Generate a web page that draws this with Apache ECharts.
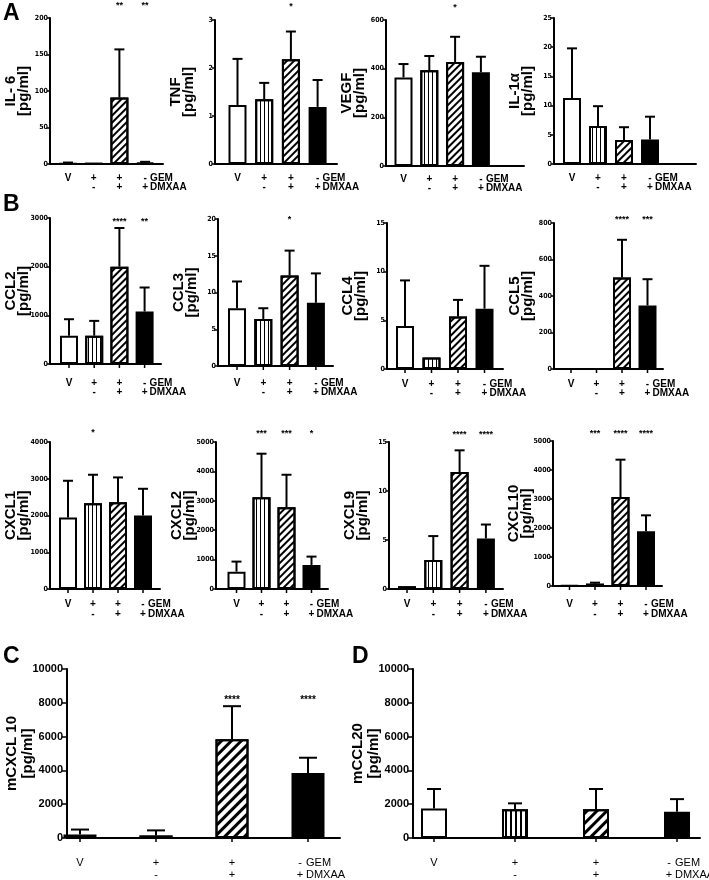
<!DOCTYPE html>
<html><head><meta charset="utf-8">
<script src="https://cdn.jsdelivr.net/npm/echarts@6/dist/echarts.min.js"></script>
<style>html,body{margin:0;padding:0;background:#fff}#c{width:709px;height:880px}</style>
</head><body><div id="c"></div>
<script>
// ---------- data ----------
const gemRow   = ['V', '+', '+', '-'];
const dmxaaRow = ['',  '-', '+', '+'];
const gemTag = 'GEM', dmxaaTag = 'DMXAA';

const il6Mean = [1, 0.5, 91, 2],        il6Err = [2, 0.5, 157, 3],        il6Stars = ['', '', '**', '**'];
const tnfMean = [1.23, 1.35, 2.18, 1.19], tnfErr = [2.19, 1.69, 2.76, 1.75], tnfStars = ['', '', '*', ''];
const vegfMean = [364, 393, 427, 385],  vegfErr = [419, 452, 531, 449],   vegfStars = ['', '', '*', ''];
const il1aMean = [11.3, 6.5, 4.1, 4.2], il1aErr = [19.8, 9.9, 6.3, 8.1],  il1aStars = ['', '', '', ''];
const ccl2Mean = [583, 583, 2000, 1078], ccl2Err = [920, 886, 2794, 1572], ccl2Stars = ['', '', '****', '**'];
const ccl3Mean = [7.86, 6.4, 12.3, 8.6], ccl3Err = [11.5, 7.86, 15.7, 12.6], ccl3Stars = ['', '', '*', ''];
const ccl4Mean = [4.43, 1.17, 5.4, 6.2], ccl4Err = [9.1, 1.17, 7.1, 10.6], ccl4Stars = ['', '', '', ''];
const ccl5Mean = [0, 0, 501, 348],      ccl5Err = [0, 0, 708, 492],       ccl5Stars = ['', '', '****', '***'];
const cxcl1Mean = [1945, 2336, 2363, 2000], cxcl1Err = [2945, 3109, 3036, 2727], cxcl1Stars = ['', '*', '', ''];
const cxcl2Mean = [590, 3125, 2784, 818], cxcl2Err = [932, 4602, 3886, 1102], cxcl2Stars = ['', '***', '***', '*'];
const cxcl9Mean = [0.3, 2.95, 11.94, 5.16], cxcl9Err = [0.3, 5.4, 14.15, 6.58], cxcl9Stars = ['', '', '****', '****'];
const cxcl10Mean = [23, 80, 3069, 1885], cxcl10Err = [23, 115, 4356, 2437], cxcl10Stars = ['', '***', '****', '****'];
const mcxcl10Mean = [200, 150, 5850, 3850], mcxcl10Err = [500, 450, 7800, 4750], mcxcl10Stars = ['', '', '****', '****'];
const mccl20Mean = [1750, 1700, 1700, 1550], mccl20Err = [2900, 2050, 2900, 2300], mccl20Stars = ['', '', '', ''];

const yMaxList  = [200, 3, 600, 25, 3000, 20, 15, 800, 4000, 5000, 15, 5000, 10000, 10000];
const yStepList = [50, 1, 200, 5, 1000, 5, 5, 200, 1000, 1000, 5, 1000, 2000, 2000];
const yTitles = ['IL- 6\n[pg/ml]', 'TNF\n[pg/ml]', 'VEGF\n[pg/ml]', 'IL-1α\n[pg/ml]',
                 'CCL2\n[pg/ml]', 'CCL3\n[pg/ml]', 'CCL4\n[pg/ml]', 'CCL5\n[pg/ml]',
                 'CXCL1\n[pg/ml]', 'CXCL2\n[pg/ml]', 'CXCL9\n[pg/ml]', 'CXCL10\n[pg/ml]',
                 'mCXCL 10\n[pg/ml]', 'mCCL20\n[pg/ml]'];
const panelLetters = ['A', 'B', 'C', 'D'];

// ---------- layout (pixels) ----------
// [left, top, right, bottom, firstCenter, spacing, starDy, lab1Dy, lab2Dy]
const layouts = [
  [50, 18, 163, 164, 68, 25.7, -12, 14, 23],
  [215, 20, 337, 164, 237.5, 26.7, -13, 14, 23],
  [386, 20, 524, 166, 403.5, 25.8, -12, 13, 22],
  [554, 18, 696, 164, 572, 26, 0, 14, 23],
  [50, 218, 161, 364, 69, 25.2, 4, 19, 28],
  [218, 219, 333, 366, 237, 26.3, 1, 17, 26],
  [387, 223, 503, 369, 405, 26.5, 0, 15, 24],
  [554, 223, 663, 369, 571, 25.5, -3, 15, 24],
  [50, 442, 160, 589, 68, 25, -9, 15, 25],
  [216, 442, 328, 589, 236.5, 25, -8, 15, 25],
  [389, 442, 503, 589, 407, 26.3, -7, 15, 25],
  [553, 441, 662, 586, 569.5, 25.5, -7, 18, 28],
  [67, 669, 340, 838, 80, 76, 31, 25, 37],
  [413, 669, 700, 838, 434, 81, 0, 25, 37]
];
const letterPos = [[3, 2], [3, 193], [3, 645], [352, 645]];

const FONT = '"Liberation Sans", Arial, Helvetica, sans-serif';
const NARROW = '"Liberation Sans Narrow", "DejaVu Sans Condensed", "Liberation Sans", sans-serif';
const plain = v => String(v);

const SMALL = {barW: 18, border: 2, axisW: 2, errW: 2, cap: 10, xTick: 0, yTick: 3,
  yFont: {fontSize: 7, fontFamily: NARROW, fontWeight: 'bold', color: '#000', margin: 2, formatter: plain},
  nameGap: 20, nameSize: 15, nameLH: 13, labFont: 'bold 10px ' + FONT, starFont: 'bold 9px ' + FONT,
  vert: [1, 2.5], diag: [1.6, 3], tagShift: 0, tagGap: 5};
const SMALL_T = Object.assign({}, SMALL, {xTick: 4});
const BIG = {barW: 33, border: 2, axisW: 2, errW: 2, cap: 18, xTick: 4, yTick: 5,
  yFont: {fontSize: 11, fontFamily: FONT, fontWeight: 'bold', color: '#000', margin: 4, formatter: plain},
  nameGap: 31, nameSize: 15, nameLH: 16, labFont: '11px ' + FONT, starFont: 'bold 10px ' + FONT,
  vert: [1.2, 3], diag: [2.5, 4], tagShift: -8, tagGap: 6};
const BIG_D = Object.assign({}, BIG, {barW: 26, cap: 14});

const means = [il6Mean, tnfMean, vegfMean, il1aMean, ccl2Mean, ccl3Mean, ccl4Mean, ccl5Mean,
               cxcl1Mean, cxcl2Mean, cxcl9Mean, cxcl10Mean, mcxcl10Mean, mccl20Mean];
const errs = [il6Err, tnfErr, vegfErr, il1aErr, ccl2Err, ccl3Err, ccl4Err, ccl5Err,
              cxcl1Err, cxcl2Err, cxcl9Err, cxcl10Err, mcxcl10Err, mccl20Err];
const stars = [il6Stars, tnfStars, vegfStars, il1aStars, ccl2Stars, ccl3Stars, ccl4Stars, ccl5Stars,
               cxcl1Stars, cxcl2Stars, cxcl9Stars, cxcl10Stars, mcxcl10Stars, mccl20Stars];
const styles = [SMALL, SMALL, SMALL, SMALL, SMALL_T, SMALL_T, SMALL_T, SMALL_T,
                SMALL_T, SMALL_T, SMALL_T, SMALL_T, BIG, BIG_D];

function barStyle(i, st) {
  const base = {borderColor: '#000', borderWidth: st.border};
  if (i === 0) return Object.assign(base, {color: '#fff'});
  if (i === 1) return Object.assign(base, {color: '#fff', decal: {
    symbol: 'rect', symbolSize: 1, symbolKeepAspect: false, color: '#000',
    dashArrayX: [st.vert[0], st.vert[1]], dashArrayY: [1, 0], rotation: 0}});
  if (i === 2) return Object.assign(base, {color: '#fff', decal: {
    symbol: 'rect', symbolSize: 1, symbolKeepAspect: false, color: '#000',
    dashArrayX: [1, 0], dashArrayY: [st.diag[0], st.diag[1]], rotation: -Math.PI / 4}});
  return Object.assign(base, {color: '#000'});
}

function txt(x, y, s, align, font) {
  return {type: 'text', x: x, y: y, silent: true,
    style: {text: s, fill: '#000', font: font, align: align, verticalAlign: 'middle',
            textAlign: align, textVerticalAlign: 'middle'}};
}

const grids = [], xAxes = [], yAxes = [], series = [];
layouts.forEach((lay, k) => {
  const [left, top, right, bottom, c0, dc, starDy, lab1, lab2] = lay;
  const st = styles[k];
  const xmin = -(c0 - left) / dc, xmax = xmin + (right - left) / dc;
  grids.push({left: left, top: top, width: right - left, height: bottom - top,
              containLabel: false, outerBoundsMode: 'none'});
  xAxes.push({gridIndex: k, type: 'value', min: xmin, max: xmax,
    axisLine: {show: true, onZero: false, lineStyle: {color: '#000', width: st.axisW}},
    axisTick: {show: false}, axisLabel: {show: false}, splitLine: {show: false}});
  yAxes.push({gridIndex: k, type: 'value', min: 0, max: yMaxList[k], interval: yStepList[k],
    name: yTitles[k], nameLocation: 'middle', nameGap: st.nameGap, nameMoveOverlap: false,
    nameTextStyle: {fontSize: st.nameSize, fontWeight: 'bold', fontFamily: FONT, color: '#000', lineHeight: st.nameLH},
    axisLine: {show: true, onZero: false, lineStyle: {color: '#000', width: st.axisW}},
    axisTick: {show: true, length: st.yTick, lineStyle: {color: '#000', width: 1.5}},
    axisLabel: st.yFont, splitLine: {show: false}});
  series.push({type: 'bar', xAxisIndex: k, yAxisIndex: k, barWidth: st.barW, silent: true,
    data: means[k].map((v, i) => ({value: [i, v], itemStyle: barStyle(i, st)}))});
  const starList = stars[k];
  series.push({type: 'custom', xAxisIndex: k, yAxisIndex: k, clip: false, silent: true, z: 5,
    data: means[k].map((v, i) => [i, v, errs[k][i]]),
    renderItem: (params, api) => {
      const i = api.value(0), m = api.value(1), e = api.value(2);
      const p0 = api.coord([i, 0]), pm = api.coord([i, m]), pe = api.coord([i, e]);
      const cs = params.coordSys;
      const ch = [];
      if (e > m) {
        ch.push({type: 'line', shape: {x1: pm[0], y1: pm[1], x2: pe[0], y2: pe[1]}, style: {stroke: '#000', lineWidth: st.errW}});
        ch.push({type: 'line', shape: {x1: pe[0] - st.cap / 2, y1: pe[1], x2: pe[0] + st.cap / 2, y2: pe[1]}, style: {stroke: '#000', lineWidth: st.errW}});
      }
      if (st.xTick) ch.push({type: 'line', shape: {x1: p0[0], y1: p0[1], x2: p0[0], y2: p0[1] + st.xTick}, style: {stroke: '#000', lineWidth: 1.5}});
      const x = p0[0] + (i === 3 ? st.tagShift : 0);
      ch.push(txt(x, p0[1] + lab1, gemRow[i], 'center', st.labFont));
      if (dmxaaRow[i]) ch.push(txt(x, p0[1] + lab2, dmxaaRow[i], 'center', st.labFont));
      if (i === 3) {
        ch.push(txt(x + st.tagGap, p0[1] + lab1, gemTag, 'left', st.labFont));
        ch.push(txt(x + st.tagGap, p0[1] + lab2, dmxaaTag, 'left', st.labFont));
      }
      if (starList[i]) ch.push(txt(pm[0], cs.y + starDy, starList[i], 'center', st.starFont));
      return {type: 'group', children: ch};
    }});
});

const chart = echarts.init(document.getElementById('c'), null, {renderer: 'canvas', width: 709, height: 880});
chart.setOption({
  animation: false,
  backgroundColor: '#fff',
  grid: grids, xAxis: xAxes, yAxis: yAxes, series: series,
  graphic: panelLetters.map((t, i) => ({type: 'text', left: letterPos[i][0], top: letterPos[i][1],
    style: {text: t, fill: '#000', font: 'bold 23px ' + FONT}}))
});
</script></body></html>
